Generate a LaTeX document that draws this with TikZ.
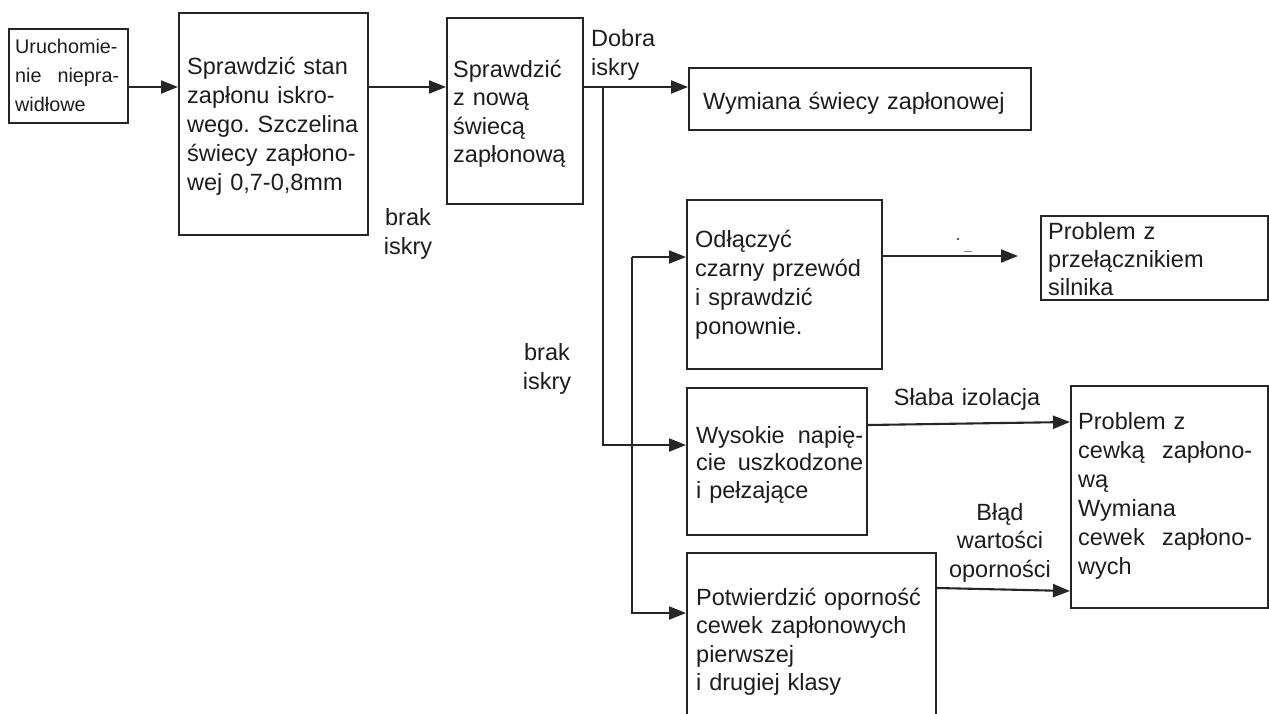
\documentclass[tikz,border=0pt]{standalone}
\usepackage{fontspec}
\setmainfont{Liberation Sans}
\usetikzlibrary{arrows.meta}
\definecolor{inkc}{HTML}{262626}
\definecolor{textc}{HTML}{1F1C1D}
\frenchspacing
\begin{document}
\begin{tikzpicture}[x=1pt,y=-1pt,
  ink/.style={draw=inkc, line width=2.1pt},
  box/.style={ink, rectangle, inner sep=0pt, anchor=north west},
  txt/.style={inner sep=0pt, anchor=base west, align=left, text=textc,
    font=\fontsize{23.5}{29}\selectfont},
  lbl/.style={inner sep=0pt, anchor=base, align=center, text width=130pt,
    text=textc, font=\fontsize{23.5}{29}\selectfont},
  arr/.style={ink, -{Triangle[length=17pt,width=13pt]}},
]
\useasboundingbox (0,0) rectangle (1269,713);
\fill[white] (0,0) rectangle (1269,713);
\clip (0,0) rectangle (1269,713);

% boxes
\node[box, minimum width=119pt, minimum height=94pt]  (b1)  at (8,28)    {};
\node[box, minimum width=189pt, minimum height=222pt] (b2)  at (178,12)  {};
\node[box, minimum width=136pt, minimum height=186pt] (b3)  at (446,17)  {};
\node[box, minimum width=342pt, minimum height=62pt]  (b4)  at (688,67)  {};
\node[box, minimum width=195pt, minimum height=169pt] (odl) at (686,199) {};
\node[box, minimum width=227pt, minimum height=84pt]  (prz) at (1040,215) {};
\node[box, minimum width=180pt, minimum height=147pt] (wys) at (686,387) {};
\node[box, minimum width=249pt, minimum height=190pt] (pot) at (686,552) {};
\node[box, minimum width=197pt, minimum height=222pt] (cew) at (1070,385) {};

% box texts
\node[txt, text width=104pt, font=\fontsize{19.8}{29}\selectfont] (b1t) at (15,53)
  {Uruchomie-\\nie\hfill niepra-\\widłowe};
\node[txt, text width=185pt] (b2t) at (187,74)
  {Sprawdzić stan\\zapłonu iskro-\\wego. Szczelina\\świecy zapłono-\\wej 0,7-0,8mm};
\node[txt, text width=125pt, font=\fontsize{23.5}{28.5}\selectfont] (b3t) at (453,77)
  {Sprawdzić\\z nową\\świecą\\zapłonową};
\node[txt, text width=320pt] (b4t) at (703,109) {Wymiana świecy zapłonowej};
\node[txt, text width=180pt] (odlt) at (695,247)
  {Odłączyć\\czarny przewód\\i sprawdzić\\ponownie.};
\node[txt, text width=210pt, font=\fontsize{23.5}{28}\selectfont] (przt) at (1048,239)
  {Problem z\\przełącznikiem\\silnika};
\node[txt, text width=167pt, font=\fontsize{23.5}{27.5}\selectfont] (wyst) at (696,443)
  {Wysokie\hfill napię-\\cie\hfill uszkodzone\\i pełzające};
\node[txt, text width=235pt, font=\fontsize{23.5}{28.5}\selectfont] (pott) at (696,605)
  {Potwierdzić oporność\\cewek zapłonowych\\pierwszej\\i drugiej klasy};
\node[txt, text width=174pt] (cewt) at (1078,429)
  {Problem z\\cewką\hfill zapłono-\\wą\\Wymiana\\cewek\hfill zapłono-\\wych};

% connector labels
\node[txt, text width=80pt] (ldobra) at (591,46) {Dobra\\iskry};
\node[lbl, text width=60pt] (lbrak1) at (408,225) {brak\\iskry};
\node[lbl, text width=60pt] (lbrak2) at (547,360) {brak\\iskry};
\node[lbl, text width=180pt] (lslaba) at (967,405) {Słaba izolacja};
\node[lbl, font=\fontsize{23.5}{28.5}\selectfont] (lblad) at (1000,520)
  {Błąd\\wartości\\oporności};

% junction points
\coordinate (j1) at (603,87);
\coordinate (j2) at (632,257);

% connectors
\draw[arr] (b1.east |- 0,87) -- (b2.west |- 0,87);
\draw[arr] (b2.east |- 0,87) -- (b3.west |- 0,87);
\draw[arr] (b3.east |- 0,87) -- (b4.west |- 0,87);
\draw[arr] (j1) |- (wys.west |- 0,445);
\draw[arr] (j2) -- (odl.west |- j2);
\draw[arr] (j2) |- (pot.west |- 0,613);
\draw[arr, shorten >=22pt] (odl.east |- 0,256) -- (prz.west |- 0,256);
\draw[arr] (wys.east |- 0,425) -- (cew.west |- 0,422);
\draw[arr] (pot.east |- 0,588) -- (cew.west |- 0,591);

% small specks above the switch arrow
\fill[inkc] (958,239) circle (1.2pt);
\draw[gray, line width=0.7pt] (964,251) -- (972,251);
\end{tikzpicture}
\end{document}
